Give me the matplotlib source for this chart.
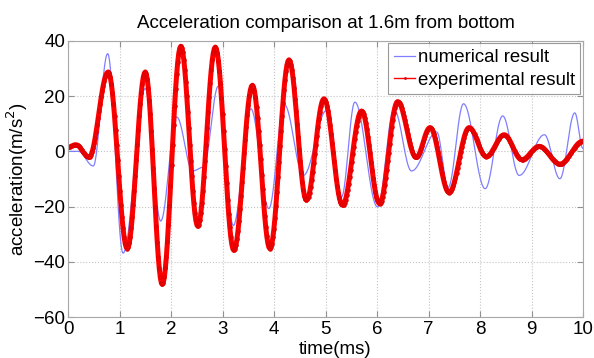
import numpy as np
import matplotlib
matplotlib.use("Agg")
import matplotlib.pyplot as plt

plt.rcParams['font.family'] = ['Liberation Sans', 'DejaVu Sans']

# Turning points of the numerical result: time (ms), acceleration (m/s^2)
num_t = [0.00, 0.20, 0.49, 0.77, 1.07, 1.50, 1.80, 2.11, 2.42, 2.63, 2.92, 3.21,
         3.55, 3.90, 4.20, 4.57, 5.02, 5.31, 5.57, 6.01, 6.33, 6.67, 7.16, 7.38,
         7.68, 8.10, 8.44, 8.76, 9.25, 9.55, 9.84, 10.00]
num_a = [0.0, 0.0, -5.3, 35.3, -36.8, 22.7, -25.2, 12.4, -7.1, -5.7, 23.6, -26.8,
         15.4, -20.7, 16.9, -8.7, 14.8, -16.5, 17.8, -20.1, 15.1, -7.1, 7.0, -13.1,
         17.2, -13.5, 12.8, -8.7, 6.0, -9.9, 13.9, 1.0]

# Turning points of the experimental record
exp_t = [0.00, 0.15, 0.41, 0.78, 1.15, 1.50, 1.83, 2.19, 2.52, 2.86, 3.22, 3.58,
         3.92, 4.29, 4.63, 4.97, 5.33, 5.70, 6.05, 6.40, 6.76, 7.03, 7.40, 7.79,
         8.12, 8.47, 8.81, 9.15, 9.55, 10.00]
exp_a = [1.5, 2.4, -2.1, 28.7, -35.2, 28.7, -48.1, 38.0, -27.1, 37.7, -35.8, 23.9,
         -35.2, 33.1, -17.7, 19.0, -19.5, 14.6, -18.9, 18.0, -2.2, 8.6, -14.9, 8.6,
         -1.9, 6.0, -3.0, 1.8, -4.6, 3.7]


def smooth_trace(tp, ap, step=0.01):
    """Half-cosine segments between successive turning points."""
    ts, vs = [], []
    for i in range(len(tp) - 1):
        t0, t1 = tp[i], tp[i + 1]
        a0, a1 = ap[i], ap[i + 1]
        n = max(int(round((t1 - t0) / step)), 2)
        s = np.linspace(0, 1, n, endpoint=False)
        ts.append(t0 + (t1 - t0) * s)
        vs.append(a0 + (a1 - a0) * (1 - np.cos(np.pi * s)) / 2)
    ts.append([tp[-1]])
    vs.append([ap[-1]])
    return np.concatenate(ts), np.concatenate(vs)


tn, an = smooth_trace(num_t, num_a)
te, ae = smooth_trace(exp_t, exp_a, step=0.02)

fig = plt.figure(figsize=(5.94, 3.58), dpi=100)
ax = fig.add_axes([0.1145, 0.1137, 0.867, 0.7726])

ax.plot(tn, an, color='#7f7fff', lw=0.9, label='numerical result')
ax.plot(te, ae, color='red', lw=3.6, marker='.', markersize=4.5,
        markeredgecolor='#e00000', label='experimental result')

ax.set_xlim(0, 10)
ax.set_ylim(-60, 40)
ax.set_xticks(np.arange(0, 11, 1))
ax.set_yticks(np.arange(-60, 41, 20))
ax.grid(True, color='#c4c4c4', linestyle=':', linewidth=0.8)
ax.tick_params(direction='in', top=True, right=True, labelsize=13.5,
               length=4, color='#909090')
ax.tick_params(axis='x', pad=3)
ax.tick_params(axis='y', pad=2)
for sp in ax.spines.values():
    sp.set_color('#a8a8a8')

ax.set_title('Acceleration comparison at 1.6m from bottom', fontsize=13.5, pad=9)
ax.set_xlabel('time(ms)', fontsize=13.5, labelpad=-2)
ax.xaxis.set_label_coords(0.518, -0.085)
ax.set_ylabel('acceleration(m/s$^2$)', fontsize=13.5, labelpad=2)

leg = ax.legend(loc='upper right', fontsize=13.4, frameon=True, fancybox=False,
                handlelength=1.15, handletextpad=0.12, borderpad=0.3,
                labelspacing=0.3, borderaxespad=0.15)
leg.get_frame().set_edgecolor('#808080')
leg.get_frame().set_linewidth(0.8)
leg.legend_handles[1].set_linewidth(1.0)
leg.legend_handles[1].set_markersize(2)

fig.savefig('out.png', dpi=100)
